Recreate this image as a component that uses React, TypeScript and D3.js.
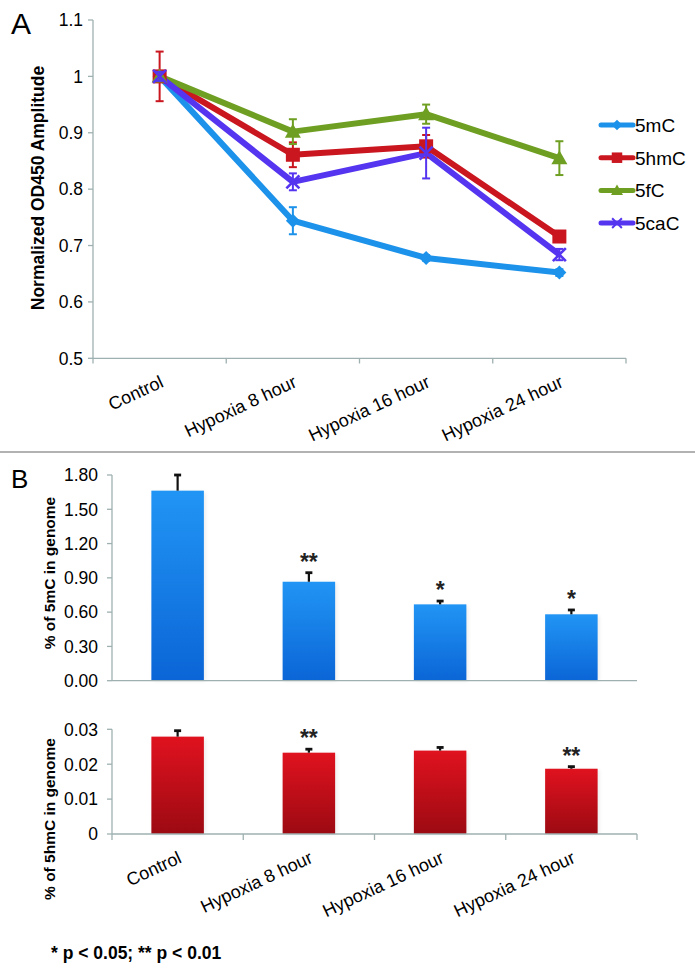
import React from "react";
import * as d3 from "d3";

const categories = ["Control", "Hypoxia 8 hour", "Hypoxia 16 hour", "Hypoxia 24 hour"];

// Panel A series
const seriesNames = ["5mC", "5hmC", "5fC", "5caC"];
const mC5 = [1.0, 0.744, 0.678, 0.652];
const hmC5 = [1.0, 0.861, 0.876, 0.716];
const fC5 = [1.0, 0.902, 0.933, 0.855];
const caC5 = [1.0, 0.813, 0.864, 0.684];
const mC5Err = [0.0, 0.024, 0.005, 0.006];
const hmC5Err = [0.044, 0.022, 0.02, 0.008];
const fC5Err = [0.008, 0.022, 0.017, 0.03];
const caC5Err = [0.008, 0.015, 0.045, 0.01];
const aTicks = [0.5, 0.6, 0.7, 0.8, 0.9, 1.0, 1.1];
const aTickLabels = ["0.5", "0.6", "0.7", "0.8", "0.9", "1", "1.1"];

// Panel B
const bar5mC = [1.663, 0.866, 0.668, 0.581];
const bar5mCErr = [0.137, 0.079, 0.029, 0.038];
const bar5mCSig = ["", "**", "*", "*"];
const b1Ticks = [0, 0.3, 0.6, 0.9, 1.2, 1.5, 1.8];
const bar5hmC = [0.0279, 0.0233, 0.0239, 0.0187];
const bar5hmCErr = [0.0017, 0.001, 0.0009, 0.0006];
const bar5hmCSig = ["", "**", "", "**"];
const b2Ticks = [0, 0.01, 0.02, 0.03];
const b2TickLabels = ["0", "0.01", "0.02", "0.03"];

const FONT = "'Liberation Sans', Arial, sans-serif";
const AXIS = "#9fb0b0";
const colors = ["#1d92ea", "#c9161f", "#6f9f22", "#5535ef"];

function Marker({ kind, x, y, color, s = 1 }: { kind: number; x: number; y: number; color: string; s?: number }) {
  if (kind === 0) {
    const r = 7 * s;
    return <path d={`M${x},${y - r}L${x + r},${y}L${x},${y + r}L${x - r},${y}Z`} fill={color} />;
  }
  if (kind === 1) {
    const r = 7 * s;
    return <rect x={x - r} y={y - r} width={2 * r} height={2 * r} fill={color} />;
  }
  if (kind === 2) {
    const r = 8 * s;
    return <path d={`M${x},${y - r}L${x + r},${y + r * 0.75}L${x - r},${y + r * 0.75}Z`} fill={color} />;
  }
  const r = 6.5 * s;
  return (
    <path
      d={`M${x - r},${y - r}L${x + r},${y + r}M${x - r},${y + r}L${x + r},${y - r}`}
      stroke={color}
      strokeWidth={2.6 * s}
    />
  );
}

export default function App() {
  // Panel A scales
  const ax = d3.scaleBand().domain(categories).range([93, 626]).padding(0);
  const ay = d3.scaleLinear().domain([0.5, 1.1]).range([358.3, 20]);
  const aSeries = [mC5, hmC5, fC5, caC5];
  const aErr = [mC5Err, hmC5Err, fC5Err, caC5Err];
  const cx = (c: string) => (ax(c) as number) + ax.bandwidth() / 2;
  const line = d3
    .line<number>()
    .x((_, i) => cx(categories[i]))
    .y((v) => ay(v));

  // Panel B scales
  const bx = d3.scaleBand().domain(categories).range([112, 637]).padding(0);
  const bcx = (c: string) => (bx(c) as number) + bx.bandwidth() / 2;
  const barW = bx.bandwidth() * 0.4;
  const by1 = d3.scaleLinear().domain([0, 1.8]).range([680.7, 475]);
  const by2 = d3.scaleLinear().domain([0, 0.03]).range([834, 729.3]);

  const xLabel = (c: string, px: number, axisY: number, key: string) => (
    <text
      key={key}
      transform={`translate(${px + 5},${axisY + 28}) rotate(-25)`}
      textAnchor="end"
      fontFamily={FONT}
      fontSize={18}
      fill="#000"
    >
      {c}
    </text>
  );

  const renderBars = (
    vals: number[],
    errs: number[],
    sig: string[],
    y: d3.ScaleLinear<number, number>,
    grad: string
  ) =>
    vals.map((v, i) => {
      const c = categories[i];
      const x = bcx(c);
      const top = y(v);
      const et = y(v + errs[i]);
      return (
        <g key={c}>
          <rect x={x - barW / 2 + 1.5} y={top + 1.5} width={barW} height={y(0) - top - 1.5} fill="#000" opacity={0.08} filter="url(#blur)" />
          <rect x={x - barW / 2} y={top} width={barW} height={y(0) - top} fill={`url(#${grad})`} />
          <line x1={x} x2={x} y1={top} y2={et} stroke="#111" strokeWidth={2.2} />
          <line x1={x - 3.5} x2={x + 3.5} y1={et} y2={et} stroke="#111" strokeWidth={2.8} />
          {sig[i] && (
            <text x={x} y={et - 3} textAnchor="middle" fontFamily={FONT} fontWeight="bold" fontSize={23} fill="#222">
              {sig[i]}
            </text>
          )}
        </g>
      );
    });

  return (
    <svg width={695} height={976} style={{ position: "absolute", left: 0, top: 0 }}>
      <defs>
        <linearGradient id="gBlue" x1="0" y1="0" x2="0" y2="1">
          <stop offset="0" stopColor="#2195f5" />
          <stop offset="1" stopColor="#0b65d6" />
        </linearGradient>
        <linearGradient id="gRed" x1="0" y1="0" x2="0" y2="1">
          <stop offset="0" stopColor="#e0121f" />
          <stop offset="1" stopColor="#9c0a12" />
        </linearGradient>
        <filter id="blur" x="-20%" y="-20%" width="140%" height="140%">
          <feGaussianBlur stdDeviation="2" />
        </filter>
      </defs>
      <rect width={695} height={976} fill="#fff" />

      {/* ================= Panel A ================= */}
      <text x={11} y={34} fontFamily={FONT} fontSize={30} fill="#000">A</text>
      <line x1={93} x2={93} y1={20} y2={358.3} stroke={AXIS} strokeWidth={1.3} />
      <line x1={93} x2={626} y1={358.3} y2={358.3} stroke={AXIS} strokeWidth={1.3} />
      {aTicks.map((t, i) => (
        <g key={t}>
          <line x1={88} x2={93} y1={ay(t)} y2={ay(t)} stroke={AXIS} strokeWidth={1.3} />
          <text x={83} y={ay(t) + 6.3} textAnchor="end" fontFamily={FONT} fontSize={17.5} fill="#000">
            {aTickLabels[i]}
          </text>
        </g>
      ))}
      {categories.concat([""]).map((c, i) => {
        const x = 93 + ax.bandwidth() * i;
        return <line key={"at" + i} x1={x} x2={x} y1={358.3} y2={363.5} stroke={AXIS} strokeWidth={1.3} />;
      })}
      {categories.map((c) => xLabel(c, cx(c), 358.3, "ax" + c))}
      <text
        transform={`translate(44,188) rotate(-90)`}
        textAnchor="middle"
        fontFamily={FONT}
        fontWeight="bold"
        fontSize={17.5}
        fill="#000"
      >
        Normalized OD450 Amplitude
      </text>

      {aSeries.map((s, k) => (
        <g key={seriesNames[k]}>
          <path d={line(s) as string} fill="none" stroke={colors[k]} strokeWidth={6} strokeLinejoin="round" />
        </g>
      ))}
      {aSeries.map((s, k) => (
        <g key={"m" + seriesNames[k]}>
          {s.map((v, i) => {
            const x = cx(categories[i]);
            const e = aErr[k][i];
            return (
              <g key={i}>
                {e > 0 && (
                  <g stroke={colors[k]} strokeWidth={2}>
                    <line x1={x} x2={x} y1={ay(v + e)} y2={ay(v - e)} />
                    <line x1={x - 4} x2={x + 4} y1={ay(v + e)} y2={ay(v + e)} />
                    <line x1={x - 4} x2={x + 4} y1={ay(v - e)} y2={ay(v - e)} />
                  </g>
                )}
                <Marker kind={k} x={x} y={ay(v)} color={colors[k]} />
              </g>
            );
          })}
        </g>
      ))}

      {/* Legend */}
      {seriesNames.map((n, k) => {
        const y = 125 + k * 32.7;
        return (
          <g key={"lg" + n}>
            <line x1={601} x2={633} y1={y} y2={y} stroke={colors[k]} strokeWidth={5} strokeLinecap="round" />
            <Marker kind={k} x={617} y={y} color={colors[k]} s={0.75} />
            <text x={635} y={y + 6.8} fontFamily={FONT} fontSize={19} fill="#000">{n}</text>
          </g>
        );
      })}

      {/* separator */}
      <line x1={0} x2={695} y1={452} y2={452} stroke="#999" strokeWidth={1.5} />

      {/* ================= Panel B ================= */}
      <text x={11} y={488} fontFamily={FONT} fontSize={26} fill="#000">B</text>

      {/* top: 5mC */}
      <line x1={112} x2={112} y1={475} y2={680.7} stroke={AXIS} strokeWidth={1.3} />
      {b1Ticks.map((t) => (
        <g key={"b1" + t}>
          <line x1={107} x2={112} y1={by1(t)} y2={by1(t)} stroke={AXIS} strokeWidth={1.3} />
          <text x={98} y={by1(t) + 6.3} textAnchor="end" fontFamily={FONT} fontSize={17.5} fill="#000">
            {t.toFixed(2)}
          </text>
        </g>
      ))}
      {renderBars(bar5mC, bar5mCErr, bar5mCSig, by1, "gBlue")}
      <line x1={112} x2={637} y1={680.7} y2={680.7} stroke={AXIS} strokeWidth={1.3} />
      <text
        transform={`translate(55,573) rotate(-90)`}
        textAnchor="middle"
        fontFamily={FONT}
        fontWeight="bold"
        fontSize={15.5}
        fill="#000"
      >
        % of 5mC in genome
      </text>

      {/* bottom: 5hmC */}
      <line x1={112} x2={112} y1={729.3} y2={834} stroke={AXIS} strokeWidth={1.3} />
      {b2Ticks.map((t, i) => (
        <g key={"b2" + t}>
          <line x1={107} x2={112} y1={by2(t)} y2={by2(t)} stroke={AXIS} strokeWidth={1.3} />
          <text x={98} y={by2(t) + 6.3} textAnchor="end" fontFamily={FONT} fontSize={17.5} fill="#000">
            {b2TickLabels[i]}
          </text>
        </g>
      ))}
      {renderBars(bar5hmC, bar5hmCErr, bar5hmCSig, by2, "gRed")}
      <line x1={112} x2={637} y1={834} y2={834} stroke={AXIS} strokeWidth={1.3} />
      {categories.concat([""]).map((c, i) => {
        const x = 112 + bx.bandwidth() * i;
        return <line key={"bt" + i} x1={x} x2={x} y1={834} y2={840} stroke={AXIS} strokeWidth={1.3} />;
      })}
      {categories.map((c) => xLabel(c, bcx(c), 834, "bx" + c))}
      <text
        transform={`translate(55,819) rotate(-90)`}
        textAnchor="middle"
        fontFamily={FONT}
        fontWeight="bold"
        fontSize={15.5}
        fill="#000"
      >
        % of 5hmC in genome
      </text>

      {/* footnote */}
      <text x={51} y={959} fontFamily={"'Liberation Sans Narrow', 'Arial Narrow', " + FONT} fontWeight="bold" fontSize={17.5} fill="#000">
        * p &lt; 0.05; ** p &lt; 0.01
      </text>
    </svg>
  );
}
